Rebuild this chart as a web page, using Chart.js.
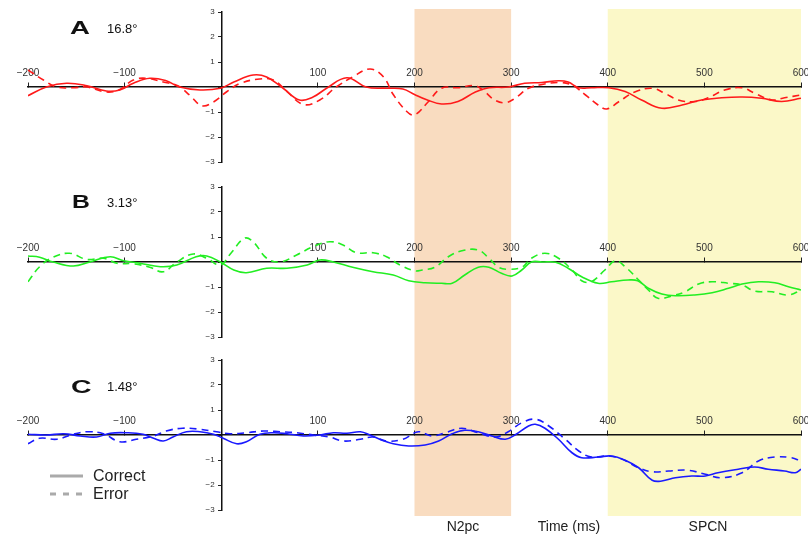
<!DOCTYPE html>
<html>
<head>
<meta charset="utf-8">
<script src="https://cdn.jsdelivr.net/npm/chart.js@4.4.1/dist/chart.umd.min.js"></script>
<style>
  html, body { margin: 0; padding: 0; background: #fff; }
  #wrap { position: relative; width: 808px; height: 538px; overflow: hidden;
          font-family: "Liberation Sans", Arial, Helvetica, sans-serif; }
  #wrap canvas { position: absolute; left: 0; }
  .t { position: absolute; white-space: nowrap; line-height: 1; color: #111; }
  .letter { font-size: 19px; font-weight: bold; transform-origin: 0 50%; }
  .deg { font-size: 13px; }
  .leg { font-size: 16px; color: #222; }
  .foot { font-size: 14px; color: #222; width: 120px; text-align: center; }
  #legendLines { position: absolute; left: 0; top: 0; }
</style>
</head>
<body>
<div id="wrap">
  <canvas id="panelA" width="808" height="175" style="top:0px"></canvas>
  <canvas id="panelB" width="808" height="175" style="top:175px"></canvas>
  <canvas id="panelC" width="808" height="188" style="top:350px"></canvas>

  <div class="t letter" style="left:70px;top:18px;transform:scaleX(1.45)">A</div>
  <div class="t deg" style="left:107px;top:22px">16.8°</div>
  <div class="t letter" style="left:72px;top:192px;transform:scaleX(1.3)">B</div>
  <div class="t deg" style="left:107px;top:196px">3.13°</div>
  <div class="t letter" style="left:71px;top:377px;transform:scaleX(1.5)">C</div>
  <div class="t deg" style="left:107px;top:380px">1.48°</div>

  <svg id="legendLines" width="808" height="538">
    <line x1="50" y1="476" x2="83" y2="476" stroke="#aaa" stroke-width="3"/>
    <line x1="50" y1="494" x2="83" y2="494" stroke="#aaa" stroke-width="3" stroke-dasharray="6 7"/>
  </svg>
  <div class="t leg" style="left:93px;top:468px">Correct</div>
  <div class="t leg" style="left:93px;top:486px">Error</div>

  <div class="t foot" style="left:403px;top:519px">N2pc</div>
  <div class="t foot" style="left:509px;top:519px">Time (ms)</div>
  <div class="t foot" style="left:648px;top:519px">SPCN</div>
</div>

<script>
// Axis ticks
const timeTicks = [-200, -100, 0, 100, 200, 300, 400, 500, 600];
const ampTicks = [-3, -2, -1, 0, 1, 2, 3];

// Analysis windows (ms): N2pc and SPCN
const windowStart = [200, 400];
const windowEnd = [300, 600];
const windowColors = ['#f9dcc0', '#fbf8c8'];

// Panel A (16.8°)
const aCorrectT = [-200,-181,-160,-139,-119,-105,-91,-74,-57,-43,-22,-1,13,33,47,64,81,95,109,130,150,171,188,200,212,228,245,263,277,297,314,332,349,359,370,383,401,418,435,456,477,497,518,539,559,580,600];
const aCorrectV = [-0.35,0,0.15,0.05,-0.16,-0.12,0.15,0.35,0.25,0,-0.12,-0.05,0.2,0.48,0.4,-0.05,-0.52,-0.4,-0.05,0.37,0,-0.05,-0.08,-0.3,-0.5,-0.68,-0.58,-0.2,-0.03,0,0.15,0.18,0.25,0.2,-0.03,-0.03,-0.03,-0.18,-0.52,-0.85,-0.72,-0.52,-0.43,-0.4,-0.45,-0.58,-0.45];
const aErrorT = [-200,-184,-170,-153,-139,-119,-105,-91,-77,-60,-45,-32,-20,-8,6,20,40,54,68,85,102,119,136,154,168,178,192,200,214,228,245,263,273,283,294,304,318,332,349,363,377,390,399,411,428,446,459,473,490,504,521,539,552,570,583,600];
const aErrorV = [0.68,0.28,0,-0.03,0,-0.2,-0.1,0.28,0.35,0.2,0.05,-0.35,-0.75,-0.6,-0.18,0.15,0.32,0.28,-0.18,-0.7,-0.52,0,0.4,0.72,0.4,-0.3,-0.98,-1.12,-0.6,-0.05,-0.03,0.05,-0.2,-0.52,-0.63,-0.45,-0.05,0.1,0.18,0.08,-0.32,-0.72,-0.88,-0.6,-0.2,-0.05,-0.25,-0.52,-0.58,-0.43,-0.12,-0.03,-0.25,-0.52,-0.43,-0.32];

// Panel B (3.13°)
const bCorrectT = [-200,-188,-174,-153,-136,-115,-101,-84,-63,-46,-26,-15,-1,13,26,47,68,89,102,116,136,157,178,194,211,228,239,252,266,277,290,301,311,321,332,346,359,373,390,404,421,431,442,456,470,490,508,525,539,556,573,587,600];
const bCorrectV = [0.24,0.19,0,-0.16,0,0.21,0.05,-0.05,-0.19,-0.12,0.21,0.24,0,-0.32,-0.43,-0.25,-0.25,-0.12,0.08,0,-0.21,-0.39,-0.52,-0.75,-0.83,-0.85,-0.85,-0.52,-0.21,-0.21,-0.45,-0.56,-0.32,0,0,-0.01,-0.25,-0.59,-0.85,-0.79,-0.72,-0.75,-1.05,-1.28,-1.35,-1.32,-1.23,-1.05,-0.88,-0.79,-0.83,-0.99,-1.12];
const bErrorT = [-200,-188,-174,-157,-139,-122,-108,-91,-74,-60,-46,-29,-15,-1,10,24,33,47,61,78,95,112,126,140,157,171,185,200,208,221,235,249,266,277,287,297,311,321,335,349,363,373,383,397,408,418,432,442,452,466,480,494,508,525,539,552,570,587,600];
const bErrorV = [-0.79,-0.19,0.19,0.35,0.1,0.15,-0.05,-0.07,-0.21,-0.39,0,0.32,0.15,-0.12,0.35,0.95,0.81,0.15,0,0.28,0.61,0.81,0.68,0.37,0.37,0.21,-0.12,-0.35,-0.32,-0.21,0.21,0.45,0.48,0.15,-0.21,-0.29,-0.21,0.15,0.35,0.15,-0.32,-0.75,-0.79,-0.32,0.05,-0.19,-0.72,-1.12,-1.45,-1.36,-1.19,-0.88,-0.79,-0.85,-0.92,-1.16,-1.19,-1.32,-1.12];

// Panel C (1.48°)
const cCorrectT = [-200,-181,-163,-146,-129,-115,-98,-81,-70,-60,-50,-36,-22,-8,2,16,26,40,54,68,85,102,116,130,144,154,164,178,194,211,225,239,252,266,280,294,304,318,325,335,349,363,373,390,404,418,432,446,456,470,487,501,514,535,552,566,583,594,600];
const cCorrectV = [0.03,0,0.05,-0.04,-0.08,0.07,0.09,0.03,-0.13,-0.24,-0.08,0.13,0.13,0.03,-0.13,-0.35,-0.27,0.03,0.09,0.05,-0.04,0,0.09,0.07,0.13,0,-0.17,-0.35,-0.44,-0.4,-0.24,0.05,0.19,0.13,-0.04,-0.17,0,0.36,0.43,0.27,-0.17,-0.71,-0.91,-0.88,-0.84,-1.01,-1.31,-1.81,-1.84,-1.71,-1.64,-1.64,-1.51,-1.37,-1.28,-1.37,-1.44,-1.51,-1.37];
const cErrorT = [-200,-188,-170,-153,-139,-122,-105,-88,-70,-57,-40,-22,-5,9,26,44,61,78,95,112,126,144,157,171,188,204,218,232,249,266,283,297,311,325,339,356,370,383,401,415,432,446,463,483,501,518,539,556,573,590,600];
const cErrorV = [-0.35,-0.13,-0.17,0.03,0.13,0.05,-0.27,-0.17,-0.04,0.16,0.27,0.23,0.13,0.05,0.09,0.16,0.13,0.09,0,-0.08,-0.24,-0.17,-0.08,-0.24,-0.17,0.13,-0.04,0.09,0.27,0.09,-0.08,0.13,0.49,0.63,0.36,-0.17,-0.64,-0.88,-0.84,-0.97,-1.31,-1.47,-1.44,-1.41,-1.57,-1.71,-1.51,-1.04,-0.88,-0.91,-1.04];

const FONT = '"Liberation Sans", Arial, Helvetica, sans-serif';
const MINUS = '\u2212';

function points(ts, vs) {
  return ts.map((t, i) => ({ x: t, y: vs[i] }));
}

function signed(v) {
  return v < 0 ? MINUS + Math.abs(v) : String(v);
}

// Shaded time windows, drawn behind axes and traces
const windowPlugin = {
  id: 'timeWindows',
  beforeDraw(chart, args, opts) {
    const { ctx, scales: { x } } = chart;
    ctx.save();
    windowStart.forEach((s, i) => {
      const x0 = x.getPixelForValue(s);
      const x1 = x.getPixelForValue(windowEnd[i]);
      ctx.fillStyle = windowColors[i];
      ctx.fillRect(x0, opts.top, x1 - x0, opts.bottom - opts.top);
    });
    ctx.restore();
  }
};

// Axes cross inside the plot, so they take no layout room
function noSpace(scale) {
  if (scale.isHorizontal()) scale.height = 0; else scale.width = 0;
  scale.paddingLeft = scale.paddingRight = scale.paddingTop = scale.paddingBottom = 0;
}

function trace(label, ts, vs, color, dash) {
  return { label, data: points(ts, vs), borderColor: color, borderWidth: 1.6,
           borderDash: dash, pointRadius: 0, tension: 0.4, fill: false };
}

function makePanel(id, color, cT, cV, eT, eV, padTop, padBottom, bandTop, bandBottom) {
  return new Chart(document.getElementById(id), {
    type: 'line',
    data: {
      datasets: [
        trace('Correct', cT, cV, color, []),
        trace('Error', eT, eV, color, [7, 5])
      ]
    },
    options: {
      responsive: false,
      animation: false,
      devicePixelRatio: 1,
      events: [],
      layout: { padding: { left: 28, right: 7, top: padTop, bottom: padBottom } },
      plugins: {
        legend: { display: false },
        tooltip: { enabled: false },
        timeWindows: { top: bandTop, bottom: bandBottom }
      },
      scales: {
        x: {
          type: 'linear', min: -200, max: 600,
          position: { y: 0 },
          afterBuildTicks: s => { s.ticks = timeTicks.map(v => ({ value: v })); },
          afterFit: noSpace,
          grid: { drawOnChartArea: false, drawTicks: true, tickLength: -5, color: '#222', lineWidth: 1 },
          border: { display: true, color: '#111', width: 1.5 },
          ticks: {
            autoSkip: false, maxRotation: 0, minRotation: 0, padding: -13.5,
            color: '#333', font: { family: FONT, size: 10, lineHeight: 1 },
            callback: v => (v === 0 ? '' : signed(v))
          }
        },
        y: {
          type: 'linear', min: -3, max: 3,
          position: { x: 0 },
          afterBuildTicks: s => { s.ticks = ampTicks.map(v => ({ value: v })); },
          afterFit: noSpace,
          grid: { drawOnChartArea: false, drawTicks: true, tickLength: 3, color: '#222', lineWidth: 1 },
          border: { display: true, color: '#111', width: 1.5 },
          ticks: {
            autoSkip: false, color: '#333', font: { family: FONT, size: 8, lineHeight: 1 },
            callback: v => (v === 0 ? '' : signed(v) + '   ')
          }
        }
      }
    },
    plugins: [windowPlugin]
  });
}

makePanel('panelA', '#ff1a1a', aCorrectT, aCorrectV, aErrorT, aErrorV, 12, 13, 9, 175);
makePanel('panelB', '#22ee22', bCorrectT, bCorrectV, bErrorT, bErrorV, 12, 13, 0, 175);
makePanel('panelC', '#1a1aff', cCorrectT, cCorrectV, cErrorT, cErrorV, 10, 28, 0, 166);
</script>
</body>
</html>
